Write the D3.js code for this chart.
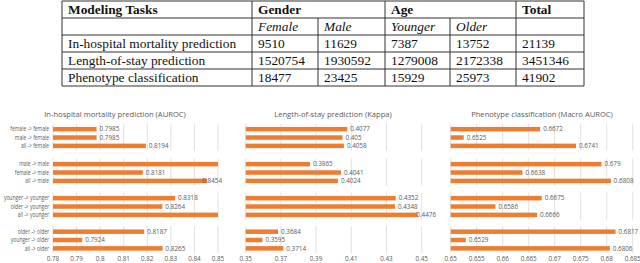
<!DOCTYPE html>
<html><head><meta charset="utf-8">
<script src="https://cdn.jsdelivr.net/npm/d3@7"></script>
<style>
html,body{margin:0;padding:0;background:#fff;}
svg{display:block;}
</style></head>
<body>
<svg id="c" width="640" height="263"></svg>
<script>
// ---------- Table data ----------
const headerTop = ["Modeling Tasks", "Gender", "Age", "Total"];
const headerSub = ["", "Female", "Male", "Younger", "Older", ""];
const tasks = ["In-hospital mortality prediction", "Length-of-stay prediction", "Phenotype classification"];
const femaleCounts = [9510, 1520754, 18477];
const maleCounts = [11629, 1930592, 23425];
const youngerCounts = [7387, 1279008, 15929];
const olderCounts = [13752, 2172338, 25973];
const totalCounts = [21139, 3451346, 41902];

// ---------- Chart data ----------
const groups = ["female", "male", "younger", "older"];
const categories = [
  "female -> female", "male -> female", "all -> female",
  "male -> male", "female -> male", "all -> male",
  "younger -> younger", "older -> younger", "all -> younger",
  "older -> older", "younger -> older", "all -> older"
];
const panelTitles = ["In-hospital mortality prediction (AUROC)", "Length-of-stay prediction (Kappa)", "Phenotype classification (Macro AUROC)"];
const mortalityValues = [0.7985, 0.7985, 0.8194, 0.8521, 0.8181, 0.8454, 0.8318, 0.8264, 0.8507, 0.8187, 0.7924, 0.8265];
const losValues = [0.4077, 0.405, 0.4058, 0.3865, 0.4041, 0.4024, 0.4352, 0.4348, 0.4476, 0.3684, 0.3595, 0.3714];
const phenotypeValues = [0.6672, 0.6525, 0.6741, 0.679, 0.6638, 0.6808, 0.6675, 0.6586, 0.6666, 0.6817, 0.6529, 0.6806];
const mortalityTicks = ["0.78", "0.79", "0.8", "0.81", "0.82", "0.83", "0.84", "0.85"];
const losTicks = ["0.35", "0.37", "0.39", "0.41", "0.43", "0.45"];
const phenotypeTicks = ["0.65", "0.655", "0.66", "0.665", "0.67", "0.675", "0.68", "0.685"];

const svg = d3.select("#c");

// ---------- Table ----------
const tbl = svg.append("g");
const colX = [62, 252, 318, 385, 450, 516, 584];
const rowY = [1, 18, 35, 52, 69, 86];
const serif = "'Liberation Serif','Times New Roman',serif";
const ink = "#111";
const fs = 13.4;
rowY.forEach(y => tbl.append("line").attr("x1", colX[0]).attr("x2", colX[6]).attr("y1", y).attr("y2", y)
  .attr("stroke", "#333").attr("stroke-width", 1));
colX.forEach((x, i) => {
  const y1 = (i === 2 || i === 4) ? rowY[1] : rowY[0];
  tbl.append("line").attr("x1", x).attr("x2", x).attr("y1", y1).attr("y2", rowY[5])
    .attr("stroke", "#333").attr("stroke-width", 1);
});
const pad = 6;
const topCols = [0, 1, 3, 5];
headerTop.forEach((t, i) => tbl.append("text").attr("x", colX[topCols[i]] + pad).attr("y", rowY[0] + 12.5)
  .attr("font-family", serif).attr("font-size", fs).attr("font-weight", "bold").attr("fill", ink).text(t));
headerSub.forEach((t, i) => tbl.append("text").attr("x", colX[i] + pad).attr("y", rowY[1] + 12.5)
  .attr("font-family", serif).attr("font-size", fs).attr("font-style", "italic").attr("fill", ink).text(t));
tasks.forEach((t, r) => {
  const vals = [t, femaleCounts[r], maleCounts[r], youngerCounts[r], olderCounts[r], totalCounts[r]];
  vals.forEach((v, i) => tbl.append("text").attr("x", colX[i] + pad).attr("y", rowY[r + 2] + 12.5)
    .attr("font-family", serif).attr("font-size", fs).attr("fill", ink).text(v));
});

// ---------- Bar panels ----------
const sans = "'Open Sans','Liberation Sans',sans-serif";
const textCol = "#595959";
const barCol = "#ED7D31";
const gridCol = "#d9d9d9";
const groupTop = [125, 160, 194, 227.5];
const barPitch = 8.35;
const barH = 4.5;

const panels = [
  {title: panelTitles[0], values: mortalityValues, ticks: mortalityTicks, x0: 53, x1: 218, limit: 222, titleX: 115, showCats: true},
  {title: panelTitles[1], values: losValues, ticks: losTicks, x0: 245.7, x1: 421.7, limit: 436, titleX: 333, showCats: false},
  {title: panelTitles[2], values: phenotypeValues, ticks: phenotypeTicks, x0: 450.7, x1: 632.7, limit: 640, titleX: 542, showCats: false}
];

panels.forEach(p => {
  const g = svg.append("g");
  const tv = p.ticks.map(Number);
  const x = d3.scaleLinear().domain([tv[0], tv[tv.length - 1]]).range([p.x0, p.x1]);
  g.append("text").attr("x", p.titleX).attr("y", 117).attr("text-anchor", "middle")
    .attr("font-family", sans).attr("font-size", 7.6).attr("fill", textCol).text(p.title);

  groups.forEach((grp, gi) => {
    const y = d3.scaleBand().domain(categories.slice(gi * 3, gi * 3 + 3))
      .range([groupTop[gi], groupTop[gi] + barPitch * 3]).paddingInner(0).paddingOuter(0);
    const gg = g.append("g");
    gg.selectAll("line.grid").data(tv).enter().append("line")
      .attr("x1", d => x(d)).attr("x2", d => x(d))
      .attr("y1", groupTop[gi] - 1.5).attr("y2", groupTop[gi] + barPitch * 3 + 0.5)
      .attr("stroke", gridCol).attr("stroke-width", 0.8);
    const vals = p.values.slice(gi * 3, gi * 3 + 3);
    const cats = categories.slice(gi * 3, gi * 3 + 3);
    cats.forEach((c, k) => {
      const v = vals[k];
      const xe = x(Math.min(v, x.domain()[1]));
      const cy = y(c) + y.bandwidth() / 2;
      gg.append("rect").attr("x", x(x.domain()[0])).attr("y", cy - barH / 2)
        .attr("width", xe - x(x.domain()[0])).attr("height", barH).attr("fill", barCol);
      if (v <= x.domain()[1]) {
        const txt = gg.append("text").attr("y", cy + 2.2).attr("font-family", sans).attr("font-size", 6.3)
          .attr("fill", textCol).text(String(v));
        const w = txt.node().getComputedTextLength();
        txt.attr("x", Math.min(xe + 3, p.limit - w));
      }
      if (p.showCats) {
        const lt = gg.append("text").attr("x", 0).attr("y", 0).attr("text-anchor", "end")
          .attr("font-family", sans).attr("font-size", 6.2).attr("fill", textCol).text(c);
        lt.attr("transform", `translate(49,${cy + 2.2}) scale(0.8,1)`);
      }
    });
  });

  g.selectAll("text.tick").data(p.ticks).enter().append("text")
    .attr("x", d => x(+d)).attr("y", 261).attr("text-anchor", "middle")
    .attr("font-family", sans).attr("font-size", 6.3).attr("fill", textCol).text(d => d);
});
</script>
</body></html>
